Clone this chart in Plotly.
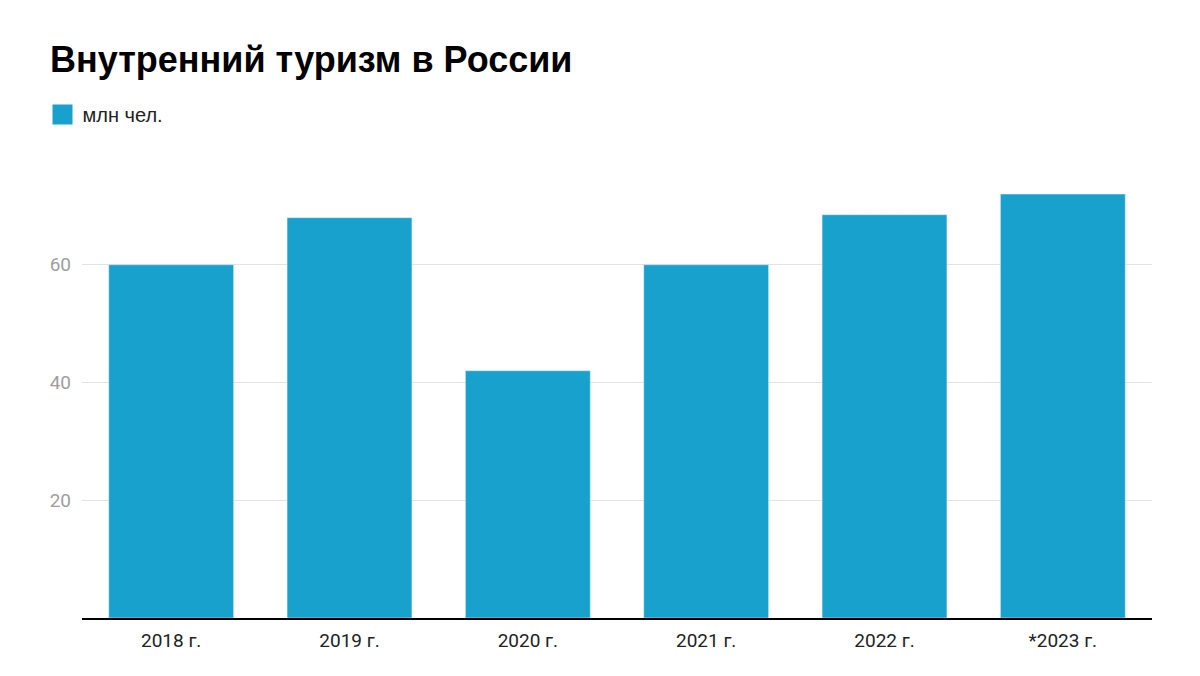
import plotly.graph_objects as go

categories = ["2018 г.", "2019 г.", "2020 г.", "2021 г.", "2022 г.", "*2023 г."]
values = [60, 68, 42, 60, 68.5, 72]
series_name = "млн чел."
y_ticks = [20, 40, 60]

color = "#19a1cd"

W, H = 1192, 668  # page has an 8px body margin
L, R, T, B = 74, 48, 139, 58
PW, PH = W - L - R, H - T - B

fig = go.Figure()
fig.add_trace(go.Bar(x=categories, y=values, marker_color=color, showlegend=False,
                     name=series_name))
fig.add_trace(go.Scatter(x=[None], y=[None], mode="markers", name=series_name,
                         marker=dict(symbol="square", size=16, color=color,
                                     line=dict(color=color, width=4))))

fig.update_layout(
    width=W, height=H,
    paper_bgcolor="white", plot_bgcolor="white",
    margin=dict(l=L, r=R, t=T, b=B),
    bargap=0.3,
    title=dict(text="<b>Внутренний туризм в России</b>", x=42/W, xanchor="left",
               y=1 - 51/H, yanchor="middle",
               font=dict(family="Liberation Sans, Arial", size=36, color="black")),
    legend=dict(orientation="h", x=-39.5/PW, xanchor="left", y=1 + 32.5/PH, yanchor="middle",
                font=dict(family="Liberation Sans, Arial", size=20, color="#222"),
                itemwidth=30, bgcolor="rgba(0,0,0,0)"),
    showlegend=True,
)
fig.update_xaxes(showline=True, linecolor="black", linewidth=1.5, showgrid=False,
                 tickfont=dict(family="Roboto", size=19, color="#222"), ticks="",
                 ticklabelstandoff=4)
fig.update_yaxes(range=[0, 80], tickvals=y_ticks, showgrid=True, gridcolor="#e3e3e3",
                 gridwidth=1, zeroline=False, showline=False, ticks="",
                 tickfont=dict(family="Roboto", size=19, color="#9e9e9e"),
                 ticklabelstandoff=10)

fig.write_html("out.html")
